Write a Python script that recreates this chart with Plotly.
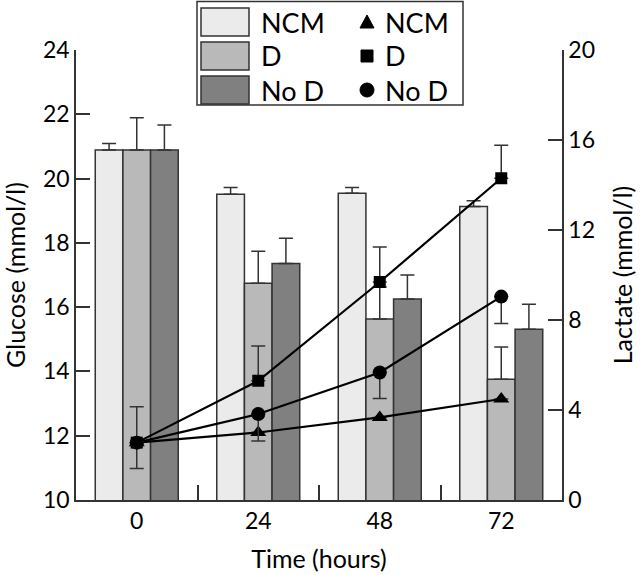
import plotly.graph_objects as go

# ---- data ----
times = ["0", "24", "48", "72"]

glucose_ncm = [20.89, 19.51, 19.54, 19.13]
glucose_ncm_err = [0.2, 0.21, 0.18, 0.18]
glucose_d = [20.89, 16.74, 15.63, 13.76]
glucose_d_err = [1.0, 1.0, 1.0, 1.0]
glucose_nod = [20.89, 17.36, 16.25, 15.31]
glucose_nod_err = [0.78, 0.78, 0.75, 0.78]

lactate_ncm = [2.55, 3.0, 3.67, 4.49]
lactate_ncm_err = [0.0, 0.0, 0.0, 0.0]
lactate_d = [2.55, 5.3, 9.69, 14.3]
lactate_d_err = [1.6, 1.55, 1.55, 1.47]
lactate_nod = [2.55, 3.82, 5.67, 9.04]
lactate_nod_err = [1.15, 1.2, 1.16, 1.2]

legend_labels = ["NCM", "D", "No D"]

# ---- style ----
FONT = "Lato"
EDGE = "#333333"
bar_colors = ["#ebebeb", "#b9b9b9", "#808080"]

fig = go.Figure()

bar_sets = [(glucose_ncm, glucose_ncm_err), (glucose_d, glucose_d_err), (glucose_nod, glucose_nod_err)]
for (vals, err), col, name in zip(bar_sets, bar_colors, legend_labels):
    fig.add_trace(go.Bar(
        x=times, y=vals, name=name, showlegend=False,
        marker=dict(color=col, line=dict(color=EDGE, width=1.5)),
        error_y=dict(type="data", symmetric=False, array=err,
                     arrayminus=[0] * len(err), color=EDGE, thickness=1.5, width=7),
    ))

line_sets = [
    (lactate_ncm, lactate_ncm_err, [0] * 4, "triangle-up", 14),
    (lactate_d, lactate_d_err, [0] * 4, "square", 12),
    (lactate_nod, [0] * 4, lactate_nod_err, "circle", 14),
]
for (vals, up, dn, sym, sz), name in zip(line_sets, legend_labels):
    fig.add_trace(go.Scatter(
        x=times, y=vals, yaxis="y2", name=name, showlegend=False,
        mode="lines+markers",
        line=dict(color="black", width=2.2),
        marker=dict(symbol=sym, size=sz, color="black"),
        error_y=dict(type="data", symmetric=False, array=up, arrayminus=dn,
                     color=EDGE, thickness=1.5, width=7),
    ))

# ---- manual legend (paper coords from page pixel positions) ----
L, T, W, H = 76.0, 50.0, 486.0, 450.0
def px(x):
    return (x - L) / W
def py(y):
    return (T + H - y) / H

shapes = [dict(type="rect", xref="paper", yref="paper",
               x0=px(197), x1=px(463), y0=py(105), y1=py(1.5),
               line=dict(color=EDGE, width=1.5), fillcolor="white", layer="above")]
annotations = []
rows = [(8, 36), (42, 70), (76, 104)]
for (top, bot), col, name, sym in zip(rows, bar_colors, legend_labels, ["tri", "sq", "circ"]):
    shapes.append(dict(type="rect", xref="paper", yref="paper",
                       x0=px(201), x1=px(249), y0=py(bot), y1=py(top),
                       line=dict(color=EDGE, width=1.5), fillcolor=col, layer="above"))
    cy = (top + bot) / 2
    annotations.append(dict(xref="paper", yref="paper", x=px(259), y=py(cy),
                            text=name, showarrow=False, xanchor="left", yanchor="middle",
                            font=dict(family=FONT, size=27, color="black")))
    annotations.append(dict(xref="paper", yref="paper", x=px(383), y=py(cy),
                            text=name, showarrow=False, xanchor="left", yanchor="middle",
                            font=dict(family=FONT, size=27, color="black")))
    mx = 367
    if sym == "tri":
        path = f"M {px(mx-7)} {py(cy+6)} L {px(mx+7)} {py(cy+6)} L {px(mx)} {py(cy-7)} Z"
        shapes.append(dict(type="path", xref="paper", yref="paper", path=path,
                           fillcolor="black", line=dict(color="black", width=1), layer="above"))
    elif sym == "sq":
        shapes.append(dict(type="rect", xref="paper", yref="paper",
                           x0=px(mx-6), x1=px(mx+6), y0=py(cy+6), y1=py(cy-6),
                           fillcolor="black", line=dict(color="black", width=1), layer="above"))
    else:
        shapes.append(dict(type="circle", xref="paper", yref="paper",
                           x0=px(mx-7), x1=px(mx+7), y0=py(cy+7), y1=py(cy-7),
                           fillcolor="black", line=dict(color="black", width=1), layer="above"))

fig.update_layout(
    width=640, height=575,
    margin=dict(l=76, r=78, t=50, b=75),
    paper_bgcolor="white", plot_bgcolor="white",
    barmode="group", bargap=0.317, bargroupgap=0,
    font=dict(family=FONT, size=22, color="black"),
    showlegend=False, hovermode=False,
    shapes=shapes, annotations=annotations,
    xaxis=dict(type="category", showline=True, linecolor=EDGE, linewidth=1.5,
               ticks="inside", ticklen=15, tickwidth=1.5, tickcolor=EDGE,
               tickson="boundaries", showgrid=False, zeroline=False, automargin=False,
               title=dict(text="Time (hours)", font=dict(size=25), standoff=17),
               tickfont=dict(size=23)),
    yaxis=dict(range=[10, 24], dtick=2, showline=True, linecolor=EDGE, linewidth=1.5,
               ticks="inside", ticklen=14, tickwidth=1.5, tickcolor=EDGE,
               showgrid=False, zeroline=False, tickfont=dict(size=23), automargin=False,
               title=dict(text="Glucose (mmol/l)", font=dict(size=25), standoff=24)),
    yaxis2=dict(range=[0, 20], dtick=4, overlaying="y", side="right",
                showline=True, linecolor=EDGE, linewidth=1.5,
                ticks="inside", ticklen=14, tickwidth=1.5, tickcolor=EDGE,
                showgrid=False, zeroline=False, tickfont=dict(size=23), automargin=False,
                title=dict(text="Lactate (mmol/l)", font=dict(size=25), standoff=20)),
)

# remove the browser's default 8px page margin so the figure sits at (0, 0)
fig.write_html("out.html", config={"displayModeBar": False},
               post_script="document.body.style.margin='0px';")
